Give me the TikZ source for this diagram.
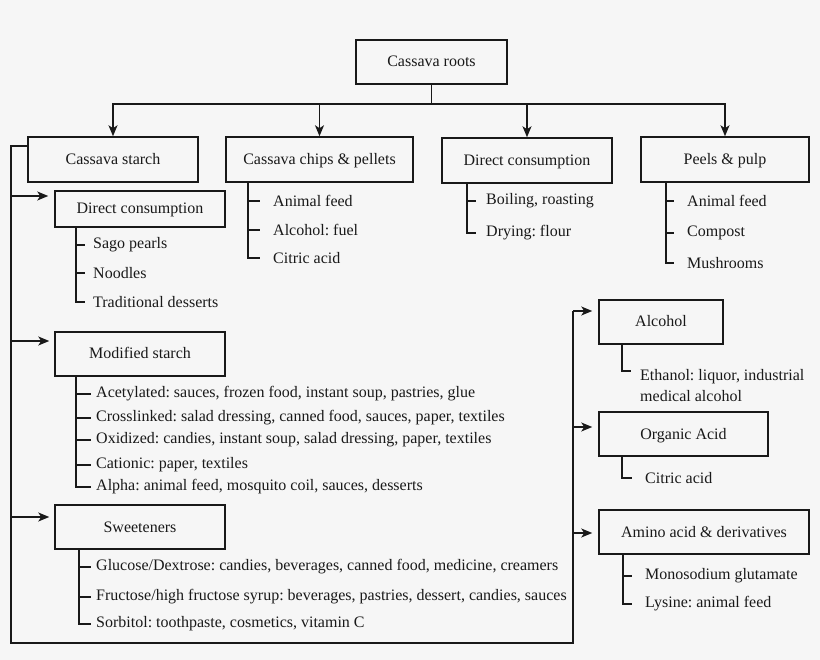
\documentclass[tikz,border=0pt]{standalone}
\usepackage{fontspec}
\setmainfont{Liberation Serif}
\usetikzlibrary{arrows.meta}
\definecolor{bg}{RGB}{246,246,246}
\definecolor{ink}{RGB}{25,25,25}
\frenchspacing
\begin{document}
\begin{tikzpicture}[x=1pt,y=-1pt,
  ln/.style={line width=1.5pt,draw=ink},
  arr/.style={ln,-{Stealth[length=11pt,width=9pt,inset=3pt]}},
  box/.style={draw=ink,line width=1.5pt,minimum height=44pt,inner sep=0pt,text height=12pt,text depth=2pt,text=ink,font=\fontsize{16}{18}\selectfont},
  item/.style={anchor=west,inner sep=0pt,text=ink,font=\fontsize{16}{18}\selectfont}]
\fill[bg] (0,0) rectangle (820,660);
\useasboundingbox (0,0) rectangle (820,660);

% boxes
\node[box,minimum width=151pt] (root) at (431.5,62) {Cassava roots};
\node[box,minimum width=170pt,minimum height=45pt] (starch) at (113,159.5) {Cassava starch};
\node[box,minimum width=187pt,minimum height=45pt] (chips) at (319.5,159.5) {Cassava chips \& pellets};
\node[box,minimum width=170pt,minimum height=45pt] (dcA) at (527,160.5) {Direct consumption};
\node[box,minimum width=168pt,minimum height=45pt] (peels) at (725,159.5) {Peels \& pulp};
\node[box,minimum width=170pt,minimum height=36pt] (dcB) at (140,209) {Direct consumption};
\node[box,minimum width=170pt] (mod) at (140,354) {Modified starch};
\node[box,minimum width=170pt] (sweet) at (140,527) {Sweeteners};
\node[box,minimum width=124pt] (alc) at (661,322) {Alcohol};
\node[box,minimum width=169pt] (org) at (683.5,434) {Organic Acid};
\node[box,minimum width=210pt] (amino) at (704,532) {Amino acid \& derivatives};

% root distribution
\coordinate (bar) at (429,104);
\draw[ln] (root.south) -- (root.south |- bar);
\foreach \n in {starch,chips,dcA,peels}
  \draw[arr] (bar) -| (\n.north);

% trunk from cassava starch
\coordinate (bl) at (11,643);
\coordinate (br) at (573,643);
\coordinate (tr) at (573,311);
\draw[ln] ([yshift=13.5pt]starch.west) -| (bl) -- (br) -- (tr);
\path ([yshift=13pt]dcB.west) coordinate (aB)
      ([yshift=13pt]mod.west) coordinate (aM)
      ([yshift=10pt]sweet.west) coordinate (aS)
      ([yshift=11pt]alc.west) coordinate (aA)
      ([yshift=7pt]org.west) coordinate (aO)
      ([yshift=-1pt]amino.west) coordinate (aN);
\draw[arr,shorten >=6pt] (aB -| bl) -- (aB);
\draw[arr,shorten >=5pt] (aM -| bl) -- (aM);
\draw[arr,shorten >=5pt] (aS -| bl) -- (aS);
\draw[arr,shorten >=6pt] (tr) -- (aA);
\draw[arr,shorten >=6pt] (aO -| tr) -- (aO);
\draw[arr,shorten >=6pt] (aN -| tr) -- (aN);

% item lists
\foreach \y/\t [count=\i] in {201/Animal feed, 230/Alcohol: fuel, 258/Citric acid}{
  \node[item] (ch\i) at (273,\y) {\t};
  \draw[ln] (chips.south -| 248,0) |- ([xshift=-13pt]ch\i.west);}
\foreach \y/\t [count=\i] in {201/{Boiling, roasting}, 233/Drying: flour}{
  \node[item] (da\i) at (486,\y) {\t};
  \draw[ln] (dcA.south -| 467,0) |- ([xshift=-10pt]da\i.west);}
\foreach \y/\t [count=\i] in {201/Animal feed, 233/Compost, 263/Mushrooms}{
  \node[item] (pe\i) at (687,\y) {\t};
  \draw[ln] (peels.south -| 666,0) |- ([xshift=-13pt]pe\i.west);}
\foreach \y/\t [count=\i] in {245/Sago pearls, 273/Noodles, 302/Traditional desserts}{
  \node[item] (db\i) at (93,\y) {\t};
  \draw[ln] (dcB.south -| 76,0) |- ([xshift=-8pt]db\i.west);}
\foreach \y/\t [count=\i] in {394/{Acetylated: sauces, frozen food, instant soup, pastries, glue},
  418/{Crosslinked: salad dressing, canned food, sauces, paper, textiles},
  440/{Oxidized: candies, instant soup, salad dressing, paper, textiles},
  465/{Cationic: paper, textiles},
  487/{Alpha: animal feed, mosquito coil, sauces, desserts}}{
  \node[item] (mo\i) at (96,\y) {\t};
  \draw[ln] (mod.south -| 76,0) |- ([xshift=-5pt]mo\i.west);}
\foreach \y/\t [count=\i] in {567/{Glucose/Dextrose: candies, beverages, canned food, medicine, creamers},
  597/{Fructose/high fructose syrup: beverages, pastries, dessert, candies, sauces},
  624/{Sorbitol: toothpaste, cosmetics, vitamin C}}{
  \node[item] (sw\i) at (96,\y) {\t};
  \draw[ln] (sweet.south -| 79,0) |- ([xshift=-5pt]sw\i.west);}
\node[item,align=left,font=\fontsize{16}{21}\selectfont] (al1) at (640,385.5) {Ethanol: liquor, industrial\\medical alcohol};
\draw[ln] (alc.south -| 622,0) |- (631,371);
\node[item] (or1) at (645,478) {Citric acid};
\draw[ln] (org.south -| 622,0) |- ([xshift=-13pt]or1.west);
\foreach \y/\t [count=\i] in {576/Monosodium glutamate, 604/Lysine: animal feed}{
  \node[item] (am\i) at (645,\y) {\t};
  \draw[ln] (amino.south -| 623,0) |- ([xshift=-13pt]am\i.west);}
\end{tikzpicture}
\end{document}
